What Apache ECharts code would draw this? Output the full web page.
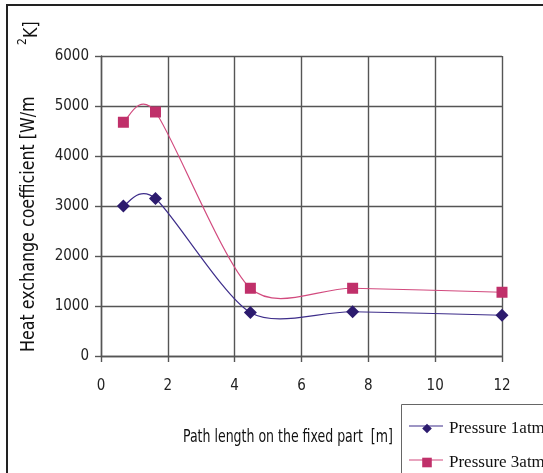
<!DOCTYPE html>
<html>
<head>
<meta charset="utf-8">
<script src="https://cdn.jsdelivr.net/npm/echarts@6/dist/echarts.min.js"></script>
<style>
  html, body { margin: 0; padding: 0; background: #fff; }
  #chart { width: 543px; height: 473px; }
</style>
</head>
<body>
<div id="chart"></div>
<script>
// data
const pathLength = [0.67, 1.63, 4.47, 7.53, 12];
const pressure1atm = [3000, 3150, 870, 885, 815];
const pressure3atm = [4675, 4880, 1355, 1355, 1275];
const seriesNames = ['Pressure 1atm', 'Pressure 3atm'];
const lineColors = ['#3d2d8a', '#d24a7e'];
const markColors = ['#2c1b6e', '#c0306a'];

const narrow = "'Liberation Sans Narrow', 'DejaVu Sans Condensed', 'Arial Narrow', sans-serif";
const serif = "'Liberation Serif', 'Times New Roman', serif";

const chart = echarts.init(document.getElementById('chart'));

const toPairs = (xs, ys) => xs.map((x, i) => [x, ys[i]]);

// spreadsheet-style smoothed line: one bezier piece per pair of neighbours
const TENSION = 1 / 7.5;
function smoothSegments(pairs, color) {
  return {
    type: 'custom',
    coordinateSystem: 'cartesian2d',
    silent: true,
    z: 1,
    data: pairs,
    renderItem: function (params, api) {
      const i = params.dataIndex;
      if (i >= pairs.length - 1) return null;
      const p = pairs.map(d => api.coord(d));
      const p0 = p[Math.max(i - 1, 0)], p1 = p[i], p2 = p[i + 1], p3 = p[Math.min(i + 2, p.length - 1)];
      return {
        type: 'bezierCurve',
        shape: {
          x1: p1[0], y1: p1[1],
          cpx1: p1[0] + (p2[0] - p0[0]) * TENSION, cpy1: p1[1] + (p2[1] - p0[1]) * TENSION,
          cpx2: p2[0] - (p3[0] - p1[0]) * TENSION, cpy2: p2[1] - (p3[1] - p1[1]) * TENSION,
          x2: p2[0], y2: p2[1]
        },
        style: { stroke: color, fill: null, lineWidth: 1.2 }
      };
    }
  };
}

const axisCommon = {
  axisLine: { show: true, lineStyle: { color: '#555', width: 1.4 } },
  axisTick: { show: true, length: 6, lineStyle: { color: '#555', width: 1.4 } },
  splitLine: { show: true, lineStyle: { color: '#555', width: 1.4 } }
};

const legendCommon = {
  orient: 'vertical',
  left: 409,
  padding: 0,
  itemWidth: 34, itemHeight: 12,
  textStyle: { fontFamily: serif, fontSize: 17, color: '#111' }
};

const option = {
  animation: false,
  grid: { left: 101, right: 41, top: 56, bottom: 117 },
  xAxis: Object.assign({
    type: 'value',
    min: 0, max: 12, interval: 2,
    axisLabel: { color: '#222', fontSize: 15, fontFamily: narrow, margin: 23 }
  }, axisCommon),
  yAxis: Object.assign({
    type: 'value',
    min: 0, max: 6000, interval: 1000,
    axisLabel: { color: '#222', fontSize: 15, fontFamily: narrow, margin: 12, formatter: v => String(v) }
  }, axisCommon),
  legend: [
    Object.assign({ top: 420, data: [seriesNames[0]] }, legendCommon),
    Object.assign({ top: 454, data: [seriesNames[1]] }, legendCommon)
  ],
  series: [
    smoothSegments(toPairs(pathLength, pressure1atm), lineColors[0]),
    smoothSegments(toPairs(pathLength, pressure3atm), lineColors[1]),
    {
      name: seriesNames[0],
      type: 'line',
      z: 3,
      data: toPairs(pathLength, pressure1atm),
      symbol: 'diamond', symbolSize: 13,
      lineStyle: { color: lineColors[0], width: 1.2, opacity: 0 },
      itemStyle: { color: markColors[0] }
    },
    {
      name: seriesNames[1],
      type: 'line',
      z: 3,
      data: toPairs(pathLength, pressure3atm),
      symbol: 'rect', symbolSize: 11,
      lineStyle: { color: lineColors[1], width: 1.2, opacity: 0 },
      itemStyle: { color: markColors[1] }
    }
  ],
  graphic: [
    // outer chart frame (right and bottom edges fall outside the picture)
    { type: 'rect', shape: { x: 7, y: 5, width: 620, height: 600 }, style: { fill: null, stroke: '#222', lineWidth: 2 } },
    // legend frame
    { type: 'rect', shape: { x: 401.5, y: 404.5, width: 200, height: 100 }, style: { fill: null, stroke: '#666', lineWidth: 1 } },
    // legend sample lines
    { type: 'line', shape: { x1: 409, y1: 426, x2: 443, y2: 426 }, style: { stroke: lineColors[0], lineWidth: 1.2 } },
    { type: 'line', shape: { x1: 409, y1: 460, x2: 443, y2: 460 }, style: { stroke: lineColors[1], lineWidth: 1.2 } },
    {
      type: 'text', x: 20, y: 352, rotation: Math.PI / 2, scaleX: 0.93,
      style: { text: 'Heat exchange coefficient [W/m', font: '19px ' + narrow, fill: '#111', align: 'left', verticalAlign: 'top' }
    },
    {
      type: 'text', x: 23, y: 38, rotation: Math.PI / 2, scaleX: 0.93,
      style: { text: 'K]', font: '19px ' + narrow, fill: '#111', align: 'left', verticalAlign: 'top' }
    },
    {
      type: 'text', x: 17, y: 45, rotation: Math.PI / 2,
      style: { text: '2', font: '12px ' + narrow, fill: '#111', align: 'left', verticalAlign: 'top' }
    },
    {
      type: 'text', x: 183, y: 429, scaleX: 0.82,
      style: { text: 'Path length on the fixed part  [m]', font: '17px ' + narrow, fill: '#111', align: 'left', verticalAlign: 'top' }
    }
  ]
};

chart.setOption(option);
</script>
</body>
</html>
